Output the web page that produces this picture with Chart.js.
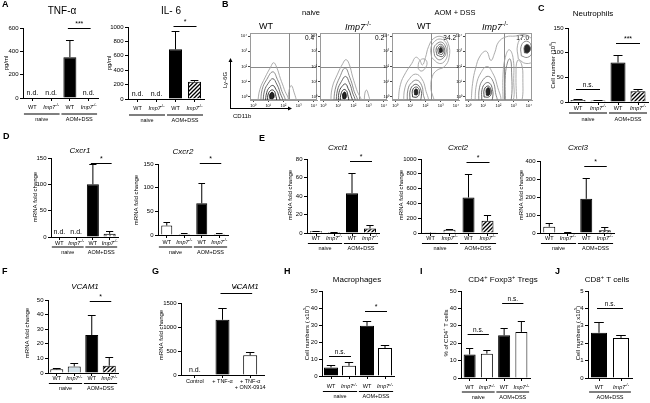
<!DOCTYPE html>
<html>
<head>
<meta charset="utf-8">
<script src="https://cdn.jsdelivr.net/npm/chart.js@4.4.0/dist/chart.umd.min.js"></script>
<style>
  body { margin: 0; background: #fff; width: 650px; height: 403px; overflow: hidden; position: relative; }
  canvas { position: absolute; left: 0; top: 0; }
</style>
</head>
<body>
<script>
// ---- data ----
const mouseCats = ['WT', '*Imp7*^-/-^', 'WT', '*Imp7*^-/-^'];
const mouseGroups = ['naive', 'AOM+DSS'];
const cellCats = [['Control'], ['+ TNF-α'], ['+ TNF-α', '+ ONX-0914']];

// null = n.d.; errTop = top of the error bar
const tnfTicks = [0, 200, 400, 600];
const tnfMean = [null, null, 350, null];
const tnfErrTop = [null, null, 495, null];
const tnfSig = [[2, 3, 600, '***']];

const il6Ticks = [0, 200, 400, 600, 800, 1000];
const il6Mean = [null, null, 690, 240];
const il6ErrTop = [null, null, 950, 260];
const il6Sig = [[2, 3, 1010, '*']];

const neutroTicks = [0, 50, 100, 150];
const neutroMean = [4, 3, 80, 22];
const neutroErrTop = [5.5, 4, 96, 27];
const neutroSig = [[0, 1, 26, 'n.s.'], [2, 3, 120, '***']];

const cxcr1Ticks = [0, 50, 100, 150];
const cxcr1Mean = [null, null, 100, 6];
const cxcr1ErrTop = [null, null, 138, 11];
const cxcr1Sig = [[2, 3, 140, '*']];

const cxcr2Ticks = [0, 50, 100, 150];
const cxcr2Mean = [20, 2, 67, 2];
const cxcr2ErrTop = [28, 4, 110, 4];
const cxcr2Sig = [[2, 3, 152, '*']];

const cxcl1Ticks = [0, 20, 40, 60, 80];
const cxcl1Mean = [2, 1, 43, 5];
const cxcl1ErrTop = [2.5, 1.3, 65, 9];
const cxcl1Sig = [[2, 3, 78, '*']];

const cxcl2Ticks = [0, 200, 400, 600, 800, 1000];
const cxcl2Mean = [5, 45, 480, 165];
const cxcl2ErrTop = [6, 60, 800, 240];
const cxcl2Sig = [[2, 3, 960, '*']];

const cxcl3Ticks = [0, 100, 200, 300, 400];
const cxcl3Mean = [35, 3, 190, 15];
const cxcl3ErrTop = [58, 4, 305, 35];
const cxcl3Sig = [[2, 3, 370, '*']];

const vcamTicks = [0, 10, 20, 30, 40, 50];
const vcamMean = [2.5, 4.5, 26, 5];
const vcamErrTop = [3.3, 7, 39.5, 11];
const vcamSig = [[2, 3, 49, '*']];

const vcamCellTicks = [0, 500, 1000, 1500];
const vcamCellMean = [null, 1150, 410];
const vcamCellErrTop = [null, 1400, 480];
const vcamCellSig = [[1, 2, 1715, '**']];

const macroTicks = [0, 10, 20, 30, 40, 50];
const macroMean = [5, 6, 29.5, 16.5];
const macroErrTop = [6.5, 8.5, 32.5, 18.5];
const macroSig = [[0, 1, 12, 'n.s.'], [2, 3, 38, '*']];

const tregTicks = [0, 10, 20, 30, 40, 50];
const tregMean = [13.5, 14, 24.5, 26.5];
const tregErrTop = [17, 16, 29, 33];
const tregSig = [[0, 1, 25.5, 'n.s.'], [2, 3, 43, 'n.s.']];

const cd8Ticks = [0, 1, 2, 3, 4, 5];
const cd8Mean = [2.6, 2.3];
const cd8ErrTop = [3.2, 2.5];
const cd8Sig = [[0, 1, 4.05, 'n.s.']];

// flow plots: log decades, contour rings as flat [x, y, x, y ...] lists
const flowTicks = [0, 1, 2, 3, 4];
const flowTickLabels = ['10⁰', '10¹', '10²', '10³', '10⁴'];
const flowGate = [2.33, 2.0];
const flowPct = ['0.4', '0.2', '34.2', '17.0'];

const wtNaiveFlow = [
  [[0.3,-0.4, 0.45,0.5, 0.8,1.3, 1.15,1.95, 1.35,2.25, 1.55,1.95, 1.8,1.2, 2.05,0.5, 2.3,-0.4],
   [0.5,-0.4, 0.6,0.5, 0.9,1.15, 1.3,1.65, 1.6,1.15, 1.85,0.5, 2.05,-0.4],
   [0.65,-0.4, 0.75,0.4, 1.0,0.9, 1.3,1.2, 1.55,0.85, 1.75,0.35, 1.9,-0.4],
   [0.8,-0.4, 0.9,0.3, 1.1,0.65, 1.32,0.75, 1.5,0.5, 1.65,0.2, 1.72,-0.4],
   [0.95,-0.3, 1.0,0.2, 1.2,0.45, 1.38,0.4, 1.48,0.15, 1.5,-0.3],
   [1.1,-0.1, 1.12,0.2, 1.28,0.3, 1.38,0.12, 1.32,-0.1]],
  [[2.3,-0.4, 2.35,0.35, 2.5,0.75, 2.65,0.45, 2.8,-0.4]]
];
const koNaiveFlow = [
  [[0.5,-0.4, 0.6,0.6, 0.95,1.5, 1.3,2.2, 1.5,2.45, 1.7,2.2, 1.95,1.3, 2.2,0.5, 2.45,-0.4],
   [0.7,-0.4, 0.8,0.5, 1.1,1.3, 1.45,1.9, 1.75,1.3, 2.0,0.5, 2.2,-0.4],
   [0.85,-0.4, 0.95,0.45, 1.2,1.0, 1.48,1.35, 1.72,0.95, 1.9,0.4, 2.05,-0.4],
   [1.0,-0.4, 1.05,0.3, 1.25,0.7, 1.48,0.85, 1.65,0.55, 1.8,0.2, 1.88,-0.4],
   [1.12,-0.3, 1.18,0.2, 1.35,0.48, 1.52,0.42, 1.62,0.15, 1.64,-0.3],
   [1.3,-0.1, 1.3,0.2, 1.43,0.32, 1.52,0.12, 1.47,-0.1]],
  [[2.7,-0.4, 2.75,0.25, 2.85,0.45, 2.95,0.25, 3.05,-0.4]]
];
const wtAomFlow = [
  [[0.2,-0.4, 0.35,0.8, 0.7,1.6, 1.1,2.2, 1.35,2.6, 1.6,2.45, 1.8,2.1, 2.0,2.6, 2.2,3.3, 2.55,3.85, 3.1,3.95, 3.5,3.5, 3.55,2.6, 3.25,2.0, 2.75,1.75, 2.45,1.35, 2.35,0.6, 2.45,-0.4]],
  [[1.5,1.9, 1.6,2.35, 1.9,2.5, 2.1,2.25, 1.95,1.85, 1.7,1.7]],
  [[2.4,2.6, 2.35,3.2, 2.6,3.65, 3.0,3.8, 3.35,3.55, 3.45,3.0, 3.3,2.4, 2.9,2.2],
   [2.6,2.7, 2.55,3.2, 2.75,3.5, 3.05,3.6, 3.3,3.35, 3.35,2.9, 3.15,2.55, 2.85,2.45],
   [2.75,2.75, 2.7,3.15, 2.85,3.4, 3.05,3.45, 3.22,3.25, 3.25,2.9, 3.1,2.65],
   [2.85,2.85, 2.82,3.15, 2.95,3.32, 3.1,3.3, 3.17,3.05, 3.08,2.8],
   [2.93,2.92, 2.92,3.15, 3.02,3.25, 3.1,3.12, 3.08,2.95]],
  [[0.55,-0.4, 0.65,0.6, 0.95,1.2, 1.35,1.5, 1.75,1.2, 2.0,0.5, 2.1,-0.4],
   [0.8,-0.4, 0.85,0.5, 1.1,0.95, 1.45,1.1, 1.75,0.75, 1.85,0.2, 1.9,-0.4],
   [0.98,-0.2, 1.0,0.45, 1.25,0.8, 1.5,0.78, 1.7,0.45, 1.72,0.0, 1.6,-0.25],
   [1.15,0.0, 1.15,0.45, 1.35,0.65, 1.55,0.55, 1.6,0.25, 1.45,0.0],
   [1.28,0.15, 1.28,0.45, 1.42,0.52, 1.5,0.35, 1.45,0.15]]
];
const koAomFlow = [
  [[0.2,-0.4, 0.3,0.9, 0.5,1.9, 0.8,2.7, 1.2,3.0, 1.5,2.4, 1.75,2.9, 2.0,3.6, 2.5,3.95, 3.1,4.0, 3.6,4.1, 4.5,4.1, 4.5,-0.4]],
  [[2.3,-0.4, 2.3,1.5, 2.45,2.6, 2.7,3.1, 2.95,2.6, 3.0,1.2, 2.9,-0.4],
   [2.45,-0.4, 2.45,1.4, 2.6,2.3, 2.75,2.5, 2.85,2.0, 2.8,-0.4]],
  [[3.2,-0.4, 3.15,1.5, 3.25,2.4, 3.5,2.2, 3.6,1.2, 3.5,-0.4]],
  [[3.3,2.5, 3.25,3.4, 3.6,3.95, 4.1,3.9, 4.4,3.2, 4.3,2.4, 3.8,2.2],
   [3.5,2.7, 3.48,3.3, 3.75,3.65, 4.1,3.5, 4.2,2.9, 3.9,2.6],
   [3.7,2.9, 3.7,3.3, 3.9,3.45, 4.1,3.2, 3.95,2.9]],
  [[0.45,-0.4, 0.55,0.8, 0.85,1.6, 1.25,2.0, 1.6,1.6, 1.9,0.8, 2.05,-0.4],
   [0.7,-0.4, 0.75,0.6, 1.0,1.15, 1.35,1.35, 1.65,1.0, 1.8,0.3, 1.85,-0.4],
   [0.9,-0.2, 0.92,0.5, 1.15,0.9, 1.42,0.9, 1.6,0.5, 1.62,0.0, 1.5,-0.25],
   [1.05,0.0, 1.07,0.5, 1.3,0.72, 1.48,0.55, 1.52,0.2, 1.35,0.0],
   [1.2,0.12, 1.2,0.5, 1.35,0.6, 1.45,0.38, 1.38,0.12]]
];

// ---- drawing ----
const W = 650, H = 403;
const FONT = '"Liberation Sans", Arial, sans-serif';
Chart.defaults.font.family = FONT;
Chart.defaults.font.size = 6;
Chart.defaults.color = '#000';

function makeCanvas() {
  const c = document.createElement('canvas');
  c.width = W; c.height = H;
  document.body.appendChild(c);
  return c.getContext('2d');
}

function tile(draw) {
  const t = document.createElement('canvas');
  t.width = 4; t.height = 4;
  const g = t.getContext('2d');
  g.fillStyle = '#fff'; g.fillRect(0, 0, 4, 4);
  g.strokeStyle = '#000'; g.fillStyle = '#000';
  draw(g);
  return g.createPattern(t, 'repeat');
}
const FILL = {
  white: '#fff',
  black: '#000',
  blue: '#d3e2ea',
  hatch: tile(g => {
    g.lineWidth = 1.3;
    g.beginPath();
    g.moveTo(0, 4); g.lineTo(4, 0);
    g.moveTo(-1, 1); g.lineTo(1, -1);
    g.moveTo(3, 5); g.lineTo(5, 3);
    g.stroke();
  }),
  dots: tile(g => { g.lineWidth = 0.8; g.beginPath(); g.arc(2, 2, 1.2, 0, Math.PI * 2); g.stroke(); })
};

function line(c, x1, y1, x2, y2) {
  c.beginPath(); c.moveTo(x1, y1); c.lineTo(x2, y2); c.stroke();
}

function fontStr(size, italic, bold) {
  return [italic ? 'italic' : '', bold ? 'bold' : '', size + 'px', FONT].filter(Boolean).join(' ');
}

// *italic*  ^superscript^
function drawRich(c, str, x, y, size, align = 'center', bold = false) {
  const segs = [];
  let it = false, sup = false, buf = '';
  const push = () => { if (buf) segs.push({ t: buf, it, sup }); buf = ''; };
  for (const ch of str) {
    if (ch === '*') { push(); it = !it; }
    else if (ch === '^') { push(); sup = !sup; }
    else buf += ch;
  }
  push();
  let w = 0;
  segs.forEach(s => { c.font = fontStr(s.sup ? size * 0.7 : size, s.it, bold); s.w = c.measureText(s.t).width; w += s.w; });
  let cx = align === 'center' ? x - w / 2 : align === 'right' ? x - w : x;
  c.textAlign = 'left'; c.textBaseline = 'middle';
  segs.forEach(s => {
    c.font = fontStr(s.sup ? size * 0.7 : size, s.it, bold);
    c.fillText(s.t, cx, s.sup ? y - size * 0.35 : y);
    cx += s.w;
  });
}

function plain(c, s, x, y, size) {
  c.font = fontStr(size); c.textAlign = 'center'; c.textBaseline = 'middle';
  c.fillText(s, x, y);
}

function barNotes(p) {
  return {
    id: 'notes',
    afterDraw(chart) {
      const c = chart.ctx, xs = chart.scales.x, ys = chart.scales.y, base = chart.chartArea.bottom;
      const pitch = (p.box[1] - p.box[0]) / p.mean.length;
      c.save();
      c.strokeStyle = '#000'; c.fillStyle = '#000'; c.lineWidth = 1;
      p.mean.forEach((v, i) => {
        const x = xs.getPixelForValue(i);
        if (v === null) plain(c, 'n.d.', x, base - 5, 7);
        else if (p.errTop[i] !== null) {
          const y0 = ys.getPixelForValue(v), y1 = Math.round(ys.getPixelForValue(p.errTop[i])) + 0.5;
          const hw = p.barW * 0.3;
          line(c, x, y0, x, y1); line(c, x - hw, y1, x + hw, y1);
        }
        const lab = Array.isArray(p.labels[i]) ? p.labels[i] : [p.labels[i]];
        lab.forEach((s, k) => drawRich(c, s, x, base + p.dy[0] + k * 6, 5.5));
      });
      if (p.groups) {
        c.lineWidth = 1.2;
        p.groups.forEach((g, j) => {
          const x1 = xs.getPixelForValue(2 * j) - pitch * 0.45, x2 = xs.getPixelForValue(2 * j + 1) + pitch * 0.45;
          line(c, x1, base + p.dy[1], x2, base + p.dy[1]);
          drawRich(c, g, (x1 + x2) / 2, base + p.dy[2], 5.5);
        });
      }
      c.lineWidth = 1;
      p.sig.forEach(([a, b, v, t]) => {
        const y = Math.round(ys.getPixelForValue(v)) + 0.5;
        line(c, xs.getPixelForValue(a) - 2, y, xs.getPixelForValue(b) + 2, y);
        plain(c, t, (xs.getPixelForValue(a) + xs.getPixelForValue(b)) / 2, y - 4, t.startsWith('n') ? 6.5 : 7);
      });
      drawRich(c, p.title[0], p.title[1], p.title[2], p.title[3] || 8);
      c.save();
      c.translate(p.ylab[1], p.ylab[2]); c.rotate(-Math.PI / 2);
      drawRich(c, p.ylab[0], 0, 0, 6);
      c.restore();
      if (p.letter) drawRich(c, p.letter[0], p.letter[1], p.letter[2], 9, 'left', true);
      c.restore();
    }
  };
}

function barPanel(p) {
  const yW = 18, xH = 3;
  const n = p.mean.length, pitch = (p.box[1] - p.box[0]) / n;
  new Chart(makeCanvas(), {
    type: 'bar',
    data: {
      labels: p.labels,
      datasets: [{
        data: p.mean,
        backgroundColor: p.fills.map(f => FILL[f]),
        borderColor: '#000', borderWidth: 1,
        barPercentage: p.barW / pitch, categoryPercentage: 1
      }]
    },
    options: {
      responsive: false, devicePixelRatio: 1, animation: false,
      layout: { padding: { left: p.box[0] - yW, right: W - p.box[1], top: p.box[2], bottom: H - p.box[3] - xH } },
      plugins: { legend: { display: false }, tooltip: { enabled: false } },
      scales: {
        x: {
          ticks: { display: false },
          grid: { drawOnChartArea: false, drawTicks: true, tickLength: 3, offset: false, color: '#000' },
          border: { color: '#000' },
          afterFit(s) { s.height = xH; }
        },
        y: {
          min: 0, max: p.ticks[p.ticks.length - 1],
          ticks: { stepSize: p.ticks[1] - p.ticks[0], padding: 1.5, font: { size: 6 }, callback: v => String(v) },
          grid: { drawOnChartArea: false, tickLength: 3, color: '#000' },
          border: { color: '#000' },
          afterFit(s) { s.width = yW; }
        }
      }
    },
    plugins: [barNotes(p)]
  });
}

const RING_COLORS = ['#a2a2a2', '#7c7c7c', '#585858', '#363636', '#1c1c1c', '#000'];

function ringPoints(r) {
  const pts = [];
  for (let i = 0; i < r.length; i += 2) pts.push({ x: r[i], y: r[i + 1] });
  pts.push({ x: r[0], y: r[1] });
  return pts;
}

function flowPanel(f) {
  const [l, r, t, b] = f.box;
  const datasets = [];
  f.pops.forEach(pop => pop.forEach((ring, k) => {
    const core = pop.length > 2 && k === pop.length - 1;
    datasets.push({
      data: ringPoints(ring), showLine: true, pointRadius: 0, borderWidth: 0.9,
      borderColor: RING_COLORS[Math.min(k, RING_COLORS.length - 1)], tension: 0.45,
      fill: core ? 'shape' : false, backgroundColor: '#262626'
    });
  }));
  const axis = (afterFit) => ({
    type: 'linear', min: -0.2, max: 4.2,
    afterBuildTicks(s) { s.ticks = flowTicks.map(v => ({ value: v })); },
    ticks: { font: { size: 4 }, padding: 1, callback: (v, i) => flowTickLabels[i] },
    grid: { drawOnChartArea: false, tickLength: 2, color: '#444' },
    border: { color: '#999' },
    afterFit
  });
  new Chart(makeCanvas(), {
    type: 'scatter',
    data: { datasets },
    options: {
      responsive: false, devicePixelRatio: 1, animation: false,
      layout: { padding: { left: l - 9, right: W - r, top: t, bottom: H - b - 7 } },
      plugins: { legend: { display: false }, tooltip: { enabled: false } },
      scales: { x: axis(s => { s.height = 7; }), y: axis(s => { s.width = 9; }) }
    },
    plugins: [{
      id: 'frame',
      beforeDatasetsDraw(chart) {
        const c = chart.ctx, a = chart.chartArea, xs = chart.scales.x, ys = chart.scales.y;
        c.save();
        c.strokeStyle = '#9a9a9a'; c.lineWidth = 1;
        c.strokeRect(a.left + 0.5, a.top + 0.5, a.right - a.left - 1, a.bottom - a.top - 1);
        const gx = Math.round(xs.getPixelForValue(flowGate[0])) + 0.5;
        const gy = Math.round(ys.getPixelForValue(flowGate[1])) + 0.5;
        c.strokeStyle = '#8a8a8a';
        line(c, gx, a.top, gx, a.bottom); line(c, a.left, gy, a.right, gy);
        c.fillStyle = '#000';
        drawRich(c, f.pct, a.right - 3, a.top + 5, 6.5, 'right');
        drawRich(c, f.head, f.headX, 27, 9);
        if (f.decor) f.decor(c);
        c.restore();
      }
    }]
  });
}

function flowDecor(c) {
  c.fillStyle = '#000'; c.strokeStyle = '#000'; c.lineWidth = 1;
  drawRich(c, 'B', 222, 5, 9, 'left', true);
  drawRich(c, 'naive', 311, 13, 7.5);
  drawRich(c, 'AOM + DSS', 455, 13, 7.5);
  c.save(); c.translate(225, 80); c.rotate(-Math.PI / 2); drawRich(c, 'Ly-6G', 0, 0, 6); c.restore();
  line(c, 230.5, 109, 230.5, 60);
  c.beginPath(); c.moveTo(228.5, 62); c.lineTo(230.5, 58); c.lineTo(232.5, 62); c.fill();
  line(c, 230, 108.5, 290, 108.5);
  c.beginPath(); c.moveTo(288, 106.5); c.lineTo(292, 108.5); c.lineTo(288, 110.5); c.fill();
  drawRich(c, 'CD11b', 233, 116, 6, 'left');
}

// ---- panels ----
barPanel({ box: [23, 98, 28, 98], ticks: tnfTicks, labels: mouseCats, mean: tnfMean, errTop: tnfErrTop,
  fills: ['white', 'white', 'black', 'white'], barW: 13, sig: tnfSig, groups: mouseGroups, dy: [9, 16, 21],
  title: ['TNF-α', 62, 11, 10], ylab: ['pg/ml', 6, 63], letter: ['A', 2, 5] });
barPanel({ box: [128, 204, 27, 99], ticks: il6Ticks, labels: mouseCats, mean: il6Mean, errTop: il6ErrTop,
  fills: ['white', 'white', 'black', 'hatch'], barW: 13, sig: il6Sig, groups: mouseGroups, dy: [9, 16, 21],
  title: ['IL- 6', 171, 11, 10], ylab: ['pg/ml', 109, 63] });
barPanel({ box: [568, 648, 28, 102], ticks: neutroTicks, labels: mouseCats, mean: neutroMean, errTop: neutroErrTop,
  fills: ['white', 'white', 'black', 'hatch'], barW: 15, sig: neutroSig, groups: mouseGroups, dy: [6, 11, 17],
  title: ['Neutrophils', 593, 14, 8], ylab: ['Cell number (10^6^)', 553, 65], letter: ['C', 538, 9] });

barPanel({ box: [51, 118, 158, 237], ticks: cxcr1Ticks, labels: mouseCats, mean: cxcr1Mean, errTop: cxcr1ErrTop,
  fills: ['white', 'white', 'black', 'dots'], barW: 12, sig: cxcr1Sig, groups: mouseGroups, dy: [6, 10, 15],
  title: ['*Cxcr1*', 80, 151, 8], ylab: ['mRNA fold change', 35, 197], letter: ['D', 3, 137] });
barPanel({ box: [158, 228, 164, 235], ticks: cxcr2Ticks, labels: mouseCats, mean: cxcr2Mean, errTop: cxcr2ErrTop,
  fills: ['white', 'white', 'black', 'white'], barW: 11, sig: cxcr2Sig, groups: mouseGroups, dy: [7, 12, 17],
  title: ['*Cxcr2*', 183, 152, 8], ylab: ['mRNA fold change', 136, 200] });

barPanel({ box: [307, 379, 159, 233], ticks: cxcl1Ticks, labels: mouseCats, mean: cxcl1Mean, errTop: cxcl1ErrTop,
  fills: ['white', 'white', 'black', 'hatch'], barW: 12, sig: cxcl1Sig, groups: mouseGroups, dy: [5, 10.5, 15.5],
  title: ['*Cxcl1*', 338, 148, 8], ylab: ['mRNA fold change', 290, 195], letter: ['E', 259, 139] });
barPanel({ box: [421, 497, 159, 233], ticks: cxcl2Ticks, labels: mouseCats, mean: cxcl2Mean, errTop: cxcl2ErrTop,
  fills: ['white', 'white', 'black', 'hatch'], barW: 12, sig: cxcl2Sig, groups: mouseGroups, dy: [5, 10.5, 15.5],
  title: ['*Cxcl2*', 458, 148, 8], ylab: ['mRNA fold change', 401, 195] });
barPanel({ box: [540, 614, 161, 233], ticks: cxcl3Ticks, labels: mouseCats, mean: cxcl3Mean, errTop: cxcl3ErrTop,
  fills: ['white', 'white', 'black', 'hatch'], barW: 12, sig: cxcl3Sig, groups: mouseGroups, dy: [5, 10.5, 15.5],
  title: ['*Cxcl3*', 578, 148, 8], ylab: ['mRNA fold change', 521, 195] });

barPanel({ box: [48, 118, 300, 373], ticks: vcamTicks, labels: mouseCats, mean: vcamMean, errTop: vcamErrTop,
  fills: ['white', 'blue', 'black', 'hatch'], barW: 13, sig: vcamSig, groups: mouseGroups, dy: [5.5, 10.5, 15.5],
  title: ['*VCAM1*', 85, 287, 8], ylab: ['mRNA fold change', 27, 333], letter: ['F', 2, 272] });
barPanel({ box: [181, 264, 303, 375], ticks: vcamCellTicks, labels: cellCats, mean: vcamCellMean, errTop: vcamCellErrTop,
  fills: ['white', 'black', 'white'], barW: 14, sig: vcamCellSig, dy: [6.5],
  title: ['*VCAM1*', 245, 287, 8], ylab: ['mRNA fold change', 161, 335], letter: ['G', 152, 272] });
barPanel({ box: [322, 394, 291, 376], ticks: macroTicks, labels: mouseCats, mean: macroMean, errTop: macroErrTop,
  fills: ['black', 'white', 'black', 'white'], barW: 14, sig: macroSig, groups: mouseGroups, dy: [10.5, 15.5, 20.5],
  title: ['Macrophages', 357, 280, 8], ylab: ['Cell numbers ( x10^5^)', 307, 333], letter: ['H', 284, 272] });
barPanel({ box: [461, 530, 291, 378], ticks: tregTicks, labels: mouseCats, mean: tregMean, errTop: tregErrTop,
  fills: ['black', 'white', 'black', 'white'], barW: 12, sig: tregSig, groups: mouseGroups, dy: [9.5, 14, 19],
  title: ['CD4^+^ Foxp3^+^ Tregs', 503, 280, 8], ylab: ['% of CD4^+^ T cells', 446, 333], letter: ['I', 420, 272] });
barPanel({ box: [588, 632, 291, 378], ticks: cd8Ticks, labels: ['WT', '*Imp7*^-/-^'], mean: cd8Mean, errTop: cd8ErrTop,
  fills: ['black', 'white'], barW: 16, sig: cd8Sig, groups: ['AOM+DSS'], dy: [9, 14, 19],
  title: ['CD8^+^ T cells', 607, 280, 8], ylab: ['Cell numbers ( x10^5^)', 578, 333], letter: ['J', 555, 272] });

flowPanel({ box: [250, 317, 33, 100], pops: wtNaiveFlow, pct: flowPct[0], head: 'WT', headX: 266, decor: flowDecor });
flowPanel({ box: [320, 387, 33, 100], pops: koNaiveFlow, pct: flowPct[1], head: '*Imp7*^-/-^', headX: 358 });
flowPanel({ box: [392, 459, 33, 100], pops: wtAomFlow, pct: flowPct[2], head: 'WT', headX: 424 });
flowPanel({ box: [465, 532, 33, 100], pops: koAomFlow, pct: flowPct[3], head: '*Imp7*^-/-^', headX: 495 });
</script>
</body>
</html>
